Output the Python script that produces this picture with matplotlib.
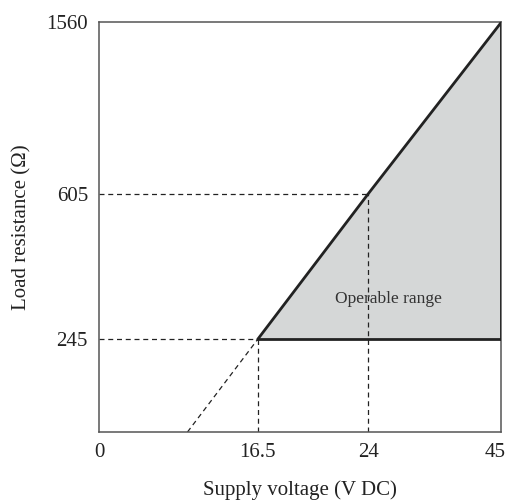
import numpy as np
import matplotlib
matplotlib.use("Agg")
import matplotlib.pyplot as plt
import matplotlib.transforms as mtransforms

# Data
x_ticks = [0, 16.5, 24, 45]
y_ticks = [245, 605, 1560]
region_x = [16.5, 45, 45]
region_y = [245, 1560, 245]
line_x = [16.5, 24, 45]
line_y = [245, 605, 1560]
ext_x = [9.2, 16.5]
ext_y = [0, 245]

# schematic (piecewise-linear) axis scales
x_vals = [0, 16.5, 24, 45]
x_pos = [0, 158.7, 269.3, 402.5]
y_vals = [0, 245, 605, 1560]
y_pos = [0, 92.7, 238.3, 410]

def fx(v):
    return np.interp(v, x_vals, x_pos)
def ifx(p):
    return np.interp(p, x_pos, x_vals)
def fy(v):
    return np.interp(v, y_vals, y_pos)
def ify(p):
    return np.interp(p, y_pos, y_vals)

plt.rcParams['font.family'] = ['Liberation Serif', 'DejaVu Serif']

fig = plt.figure(figsize=(5.10, 5.01), dpi=100)
ax = fig.add_axes([99/510, 69/501, 402.5/510, 410/501])
ax.set_xscale('function', functions=(fx, ifx))
ax.set_yscale('function', functions=(fy, ify))
ax.set_xlim(0, 45)
ax.set_ylim(0, 1560)

ax.fill(region_x, region_y, color='#d5d7d7', zorder=1, lw=0)
ax.plot(line_x, line_y, color='#222222', lw=2.0, zorder=3, solid_capstyle='round')
ax.plot([16.5, 45], [245, 245], color='#222222', lw=2.0, zorder=3)
ax.plot([45, 45], [245, 1560], color='#222222', lw=2.0, zorder=3)

dash = dict(color='#222222', lw=0.9, ls=(0, (4, 3)), zorder=2)
ax.plot([0, 24], [605, 605], **dash)
ax.plot([24, 24], [0, 605], **dash)
ax.plot([0, 16.5], [245, 245], **dash)
ax.plot([16.5, 16.5], [0, 245], **dash)
ax.plot(ext_x, ext_y, **dash)

ax.text(27.1, 345, 'Operable range', fontsize=12.5, ha='center', va='center',
        color='#333333', zorder=4)

ax.set_xticks(x_ticks)
ax.set_xticklabels(['0', '16.5', '24', '45'])
ax.set_yticks(y_ticks)
ax.set_yticklabels(['245', '605', '1560'])
ax.tick_params(length=0, labelsize=15, pad=8, colors='#222222')
for s in ax.spines.values():
    s.set_color('#555555')
    s.set_linewidth(1.1)

# nudge last x tick label inward so it stays inside the figure
last = ax.get_xticklabels()[-1]
last.set_transform(last.get_transform() + mtransforms.ScaledTranslation(-6/100, 0, fig.dpi_scale_trans))

ax.set_xlabel('Supply voltage (V DC)', fontsize=15, labelpad=13, color='#222222')
ax.set_ylabel('Load resistance (Ω)', fontsize=15, labelpad=11, color='#222222')

fig.savefig('out.png', dpi=100)
